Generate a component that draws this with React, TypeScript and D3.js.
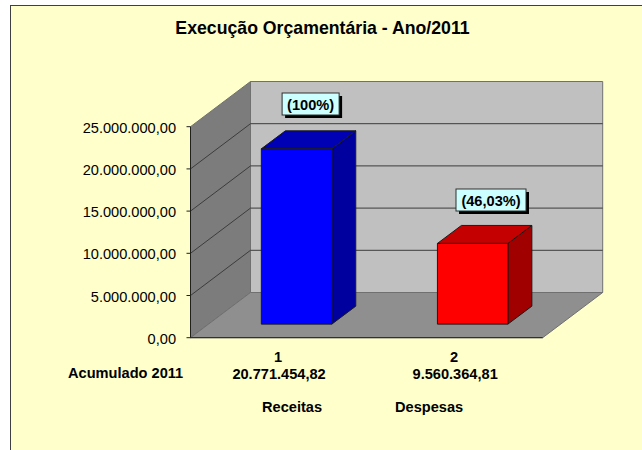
import React from "react";
import * as d3 from "d3";

const title = "Execução Orçamentária - Ano/2011";
const categories = ["1", "2"];
const seriesNames = ["Receitas", "Despesas"];
const values = [20771454.82, 9560364.81];
const valueLabels = ["20.771.454,82", "9.560.364,81"];
const percentLabels = ["(100%)", "(46,03%)"];
const yTicks = [0, 5000000, 10000000, 15000000, 20000000, 25000000];
const yTickLabels = ["0,00", "5.000.000,00", "10.000.000,00", "15.000.000,00", "20.000.000,00", "25.000.000,00"];
const barColors = [
  { front: "#0000FF", top: "#0000B4", side: "#00009E" },
  { front: "#FF0000", top: "#C40000", side: "#A00000" },
];

const font = "'Liberation Sans', Arial, sans-serif";
const y = d3.scaleLinear().domain([0, 25000000]).range([337.7, 126.7]);
const x = d3.scaleBand<string>().domain(categories).range([190.5, 542.7]).paddingInner(0).paddingOuter(0);
const DX = 60;
const DY = -45.2;
const P = (px: number, py: number, t: number): [number, number] => [px + DX * t, py + DY * t];
const poly = (pts: [number, number][]) => (d3.line()(pts) as string) + "Z";
const x0 = 190.5;
const x1 = 542.7;
const y0 = y(0);
const yT = y(25000000);
const gridColor = "#3c3c3c";
const wallEdge = "#707070";

const boxes = [
  { cx: 310.6, y: 93, w: 57, h: 22 },
  { cx: 491, y: 189, w: 70, h: 22 },
];

export default function App() {
  const bw = x.bandwidth() * 0.4;
  return (
    <svg width={642} height={450} style={{ position: "absolute", left: 0, top: 0, display: "block" }} fontFamily={font}>
      <rect x={0} y={0} width={642} height={450} fill="#fff" />
      <rect x={10.5} y={5.5} width={640} height={450} fill="#FFFFCC" stroke="#404040" strokeWidth={1} />
      <text x={322.5} y={34} textAnchor="middle" fontSize={17.7} fontWeight="bold" fill="#000">{title}</text>

      {/* back wall */}
      <path d={poly([P(x0, y0, 1), P(x1, y0, 1), P(x1, yT, 1), P(x0, yT, 1)])} fill="#C0C0C0" stroke={wallEdge} />
      {/* left wall */}
      <path d={poly([[x0, y0], P(x0, y0, 1), P(x0, yT, 1), [x0, yT]])} fill="#7C7C7C" stroke={wallEdge} />
      {/* floor */}
      <path d={poly([[x0, y0], [x1, y0], P(x1, y0, 1), P(x0, y0, 1)])} fill="#8F8F8F" stroke={wallEdge} />

      {/* gridlines */}
      {yTicks.slice(1, -1).map((t) => (
        <path key={t} d={d3.line()([[x0, y(t)], P(x0, y(t), 1), P(x1, y(t), 1)]) as string} fill="none" stroke={gridColor} strokeWidth={1} />
      ))}
      <path d={d3.line()([[x0, yT], [x0, y0], [x1, y0]]) as string} fill="none" stroke="#202020" strokeWidth={1} />

      {/* ticks + labels */}
      {yTicks.map((t, i) => (
        <g key={t}>
          <line x1={x0 - 4} x2={x0} y1={y(t)} y2={y(t)} stroke="#202020" />
          <text x={176} y={y(t) + 6} textAnchor="end" fontSize={14.6} fill="#000">{yTickLabels[i]}</text>
        </g>
      ))}

      {/* bars */}
      {categories.map((c, i) => {
        const cx = (x(c) as number) + x.bandwidth() / 2;
        const depthT = 0.3;
        const bx0 = P(cx - bw / 2, y0, depthT)[0];
        const bx1 = bx0 + bw;
        const by0 = P(0, y0, depthT)[1];
        const by1 = by0 - (y0 - y(values[i]));
        const ddx = 24;
        const ddy = -18;
        return (
          <g key={c} stroke="#1a1a1a" strokeWidth={1} strokeLinejoin="round">
            <path d={poly([[bx1, by0], [bx1 + ddx, by0 + ddy], [bx1 + ddx, by1 + ddy], [bx1, by1]])} fill={barColors[i].side} />
            <path d={poly([[bx0, by1], [bx1, by1], [bx1 + ddx, by1 + ddy], [bx0 + ddx, by1 + ddy]])} fill={barColors[i].top} />
            <rect x={bx0} y={by1} width={bw} height={by0 - by1} fill={barColors[i].front} />
          </g>
        );
      })}

      {/* percent labels */}
      {percentLabels.map((l, i) => (
        <g key={l}>
          <rect x={boxes[i].cx - boxes[i].w / 2 + 3} y={boxes[i].y + 3} width={boxes[i].w} height={boxes[i].h} fill="#000" />
          <rect x={boxes[i].cx - boxes[i].w / 2} y={boxes[i].y} width={boxes[i].w} height={boxes[i].h} fill="#CCFFFF" stroke="#303030" strokeWidth={1} />
          <text x={boxes[i].cx} y={boxes[i].y + 17} textAnchor="middle" fontSize={14.6} fontWeight="bold" fill="#000">{l}</text>
        </g>
      ))}

      {/* category labels */}
      {categories.map((c, i) => {
        const cx = (x(c) as number) + x.bandwidth() / 2;
        return (
          <g key={c} fontSize={14.6} fontWeight="bold" textAnchor="middle" fill="#000">
            <text x={cx - 0.5} y={361.5}>{c}</text>
            <text x={cx + 0.5} y={379}>{valueLabels[i]}</text>
          </g>
        );
      })}
      <text x={68} y={378} fontSize={14.6} fontWeight="bold" fill="#000">Acumulado 2011</text>
      {seriesNames.map((s, i) => (
        <text key={s} x={[262, 395][i]} y={412} fontSize={14.6} fontWeight="bold" fill="#000">{s}</text>
      ))}
    </svg>
  );
}
